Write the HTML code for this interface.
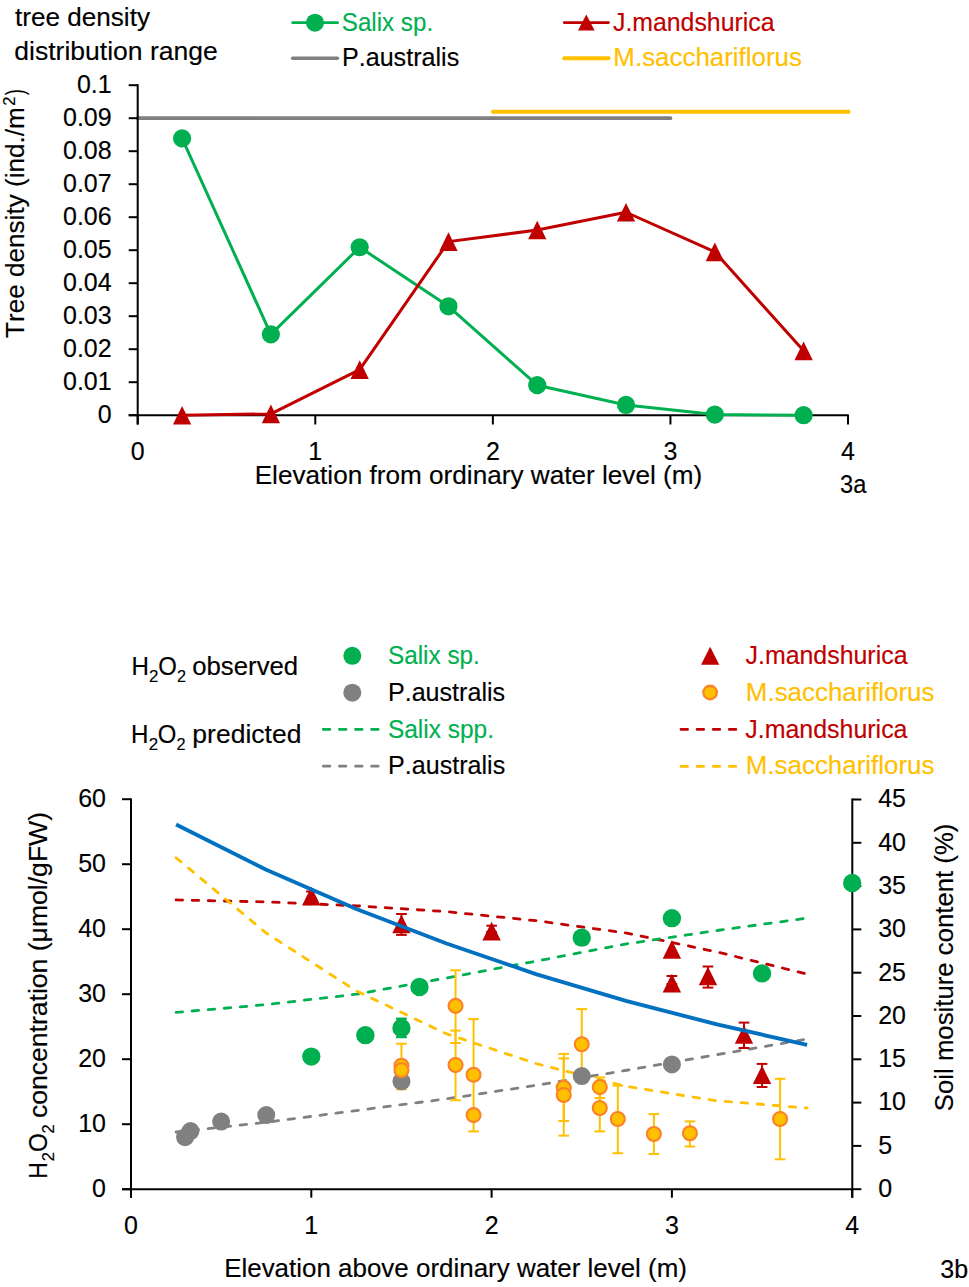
<!DOCTYPE html>
<html><head><meta charset="utf-8"><style>
html,body{margin:0;padding:0;background:#fff;}
body{width:969px;height:1287px;overflow:hidden;}
svg{display:block;}
text{font-family:"Liberation Sans",sans-serif;font-kerning:none;font-variant-ligatures:none;}
</style></head><body>
<svg width="969" height="1287" viewBox="0 0 969 1287">
<rect width="969" height="1287" fill="#fff"/>
<text x="15.00" y="26.00" font-size="25.0" fill="#000" stroke="#000" stroke-width="0.15" textLength="134.95" lengthAdjust="spacingAndGlyphs">tree density</text>
<text x="14.29" y="60.30" font-size="25.0" fill="#000" stroke="#000" stroke-width="0.15" textLength="203.59" lengthAdjust="spacingAndGlyphs">distribution range</text>
<line x1="292.60" y1="22.70" x2="337.60" y2="22.70" stroke="#00B050" stroke-width="2.7" stroke-linecap="round"/>
<circle cx="315.00" cy="22.65" r="9.0" fill="#00B050"/>
<text x="341.80" y="31.10" font-size="25.0" fill="#00B050" stroke="#00B050" stroke-width="0.15" textLength="91.30" lengthAdjust="spacingAndGlyphs">Salix sp.</text>
<line x1="292.60" y1="58.25" x2="337.50" y2="58.25" stroke="#808080" stroke-width="3.4" stroke-linecap="round"/>
<text x="341.94" y="66.00" font-size="25.0" fill="#000" stroke="#000" stroke-width="0.15" textLength="117.27" lengthAdjust="spacingAndGlyphs">P.australis</text>
<line x1="564.20" y1="22.56" x2="608.50" y2="22.56" stroke="#C00000" stroke-width="2.7" stroke-linecap="round"/>
<path d="M586.30,14.40L594.60,30.60L578.00,30.60Z" fill="#C00000"/>
<text x="613.01" y="31.30" font-size="25.0" fill="#C00000" stroke="#C00000" stroke-width="0.15" textLength="161.49" lengthAdjust="spacingAndGlyphs">J.mandshurica</text>
<line x1="564.20" y1="58.30" x2="608.60" y2="58.30" stroke="#FFC000" stroke-width="4" stroke-linecap="round"/>
<text x="613.38" y="65.80" font-size="25.0" fill="#FFC000" stroke="#FFC000" stroke-width="0.15" textLength="188.56" lengthAdjust="spacingAndGlyphs">M.sacchariflorus</text>
<line x1="137.70" y1="118.20" x2="670.50" y2="118.20" stroke="#808080" stroke-width="3.7" stroke-linecap="round"/>
<line x1="493.00" y1="111.80" x2="850.20" y2="111.80" stroke="#FFC000" stroke-width="4"/>
<circle cx="493.00" cy="111.80" r="2" fill="#FFC000"/>
<line x1="137.70" y1="84.20" x2="137.70" y2="424.50" stroke="#000" stroke-width="2"/>
<line x1="128.70" y1="415.20" x2="848.80" y2="415.20" stroke="#000" stroke-width="2"/>
<line x1="128.70" y1="415.20" x2="137.70" y2="415.20" stroke="#000" stroke-width="2"/>
<text x="111.70" y="422.90" font-size="25.0" fill="#000" stroke="#000" stroke-width="0.15" text-anchor="end">0</text>
<line x1="128.70" y1="382.20" x2="137.70" y2="382.20" stroke="#000" stroke-width="2"/>
<text x="111.70" y="389.90" font-size="25.0" fill="#000" stroke="#000" stroke-width="0.15" text-anchor="end">0.01</text>
<line x1="128.70" y1="349.20" x2="137.70" y2="349.20" stroke="#000" stroke-width="2"/>
<text x="111.70" y="356.90" font-size="25.0" fill="#000" stroke="#000" stroke-width="0.15" text-anchor="end">0.02</text>
<line x1="128.70" y1="316.20" x2="137.70" y2="316.20" stroke="#000" stroke-width="2"/>
<text x="111.70" y="323.90" font-size="25.0" fill="#000" stroke="#000" stroke-width="0.15" text-anchor="end">0.03</text>
<line x1="128.70" y1="283.20" x2="137.70" y2="283.20" stroke="#000" stroke-width="2"/>
<text x="111.70" y="290.90" font-size="25.0" fill="#000" stroke="#000" stroke-width="0.15" text-anchor="end">0.04</text>
<line x1="128.70" y1="250.20" x2="137.70" y2="250.20" stroke="#000" stroke-width="2"/>
<text x="111.70" y="257.90" font-size="25.0" fill="#000" stroke="#000" stroke-width="0.15" text-anchor="end">0.05</text>
<line x1="128.70" y1="217.20" x2="137.70" y2="217.20" stroke="#000" stroke-width="2"/>
<text x="111.70" y="224.90" font-size="25.0" fill="#000" stroke="#000" stroke-width="0.15" text-anchor="end">0.06</text>
<line x1="128.70" y1="184.20" x2="137.70" y2="184.20" stroke="#000" stroke-width="2"/>
<text x="111.70" y="191.90" font-size="25.0" fill="#000" stroke="#000" stroke-width="0.15" text-anchor="end">0.07</text>
<line x1="128.70" y1="151.20" x2="137.70" y2="151.20" stroke="#000" stroke-width="2"/>
<text x="111.70" y="158.90" font-size="25.0" fill="#000" stroke="#000" stroke-width="0.15" text-anchor="end">0.08</text>
<line x1="128.70" y1="118.20" x2="137.70" y2="118.20" stroke="#000" stroke-width="2"/>
<text x="111.70" y="125.90" font-size="25.0" fill="#000" stroke="#000" stroke-width="0.15" text-anchor="end">0.09</text>
<line x1="128.70" y1="85.20" x2="137.70" y2="85.20" stroke="#000" stroke-width="2"/>
<text x="111.70" y="92.90" font-size="25.0" fill="#000" stroke="#000" stroke-width="0.15" text-anchor="end">0.1</text>
<line x1="137.70" y1="415.20" x2="137.70" y2="424.50" stroke="#000" stroke-width="2"/>
<text x="137.70" y="459.70" font-size="25.0" fill="#000" stroke="#000" stroke-width="0.15" text-anchor="middle">0</text>
<line x1="315.28" y1="415.20" x2="315.28" y2="424.50" stroke="#000" stroke-width="2"/>
<text x="315.28" y="459.70" font-size="25.0" fill="#000" stroke="#000" stroke-width="0.15" text-anchor="middle">1</text>
<line x1="492.86" y1="415.20" x2="492.86" y2="424.50" stroke="#000" stroke-width="2"/>
<text x="492.86" y="459.70" font-size="25.0" fill="#000" stroke="#000" stroke-width="0.15" text-anchor="middle">2</text>
<line x1="670.44" y1="415.20" x2="670.44" y2="424.50" stroke="#000" stroke-width="2"/>
<text x="670.44" y="459.70" font-size="25.0" fill="#000" stroke="#000" stroke-width="0.15" text-anchor="middle">3</text>
<line x1="848.02" y1="415.20" x2="848.02" y2="424.50" stroke="#000" stroke-width="2"/>
<text x="848.02" y="459.70" font-size="25.0" fill="#000" stroke="#000" stroke-width="0.15" text-anchor="middle">4</text>
<text x="254.66" y="483.70" font-size="25.0" fill="#000" stroke="#000" stroke-width="0.15" textLength="447.57" lengthAdjust="spacingAndGlyphs">Elevation from ordinary water level (m)</text>
<text x="840.00" y="492.60" font-size="25.0" fill="#000" stroke="#000" stroke-width="0.15" textLength="26.30" lengthAdjust="spacingAndGlyphs">3a</text>
<text transform="translate(23.60,337.40) rotate(-90)" x="-0.59" y="0" font-size="25.0" fill="#000" stroke="#000" stroke-width="0.15" textLength="230.81" lengthAdjust="spacingAndGlyphs">Tree density (ind./m</text>
<text transform="translate(14.9,105.8) rotate(-90)" x="0" y="0" font-size="16.5" stroke="#000" stroke-width="0.12">2</text>
<text transform="translate(23.60,94.90) rotate(-90)" x="-0.10" y="0" font-size="25.0" fill="#000" stroke="#000" stroke-width="0.15" textLength="5.78" lengthAdjust="spacingAndGlyphs">)</text>
<polyline points="182.09,138.33 270.88,334.35 359.68,247.23 448.47,306.30 537.25,385.17 626.05,404.97 714.84,414.54 803.62,415.20" fill="none" stroke="#00B050" stroke-width="3" stroke-linejoin="round"/>
<polyline points="182.09,415.20 270.88,413.88 359.68,369.66 448.47,241.62 537.25,230.07 626.05,212.25 714.84,251.85 803.62,350.85" fill="none" stroke="#C00000" stroke-width="3" stroke-linejoin="round"/>
<circle cx="182.09" cy="138.33" r="9.1" fill="#00B050"/>
<circle cx="270.88" cy="334.35" r="9.1" fill="#00B050"/>
<circle cx="359.68" cy="247.23" r="9.1" fill="#00B050"/>
<circle cx="448.47" cy="306.30" r="9.1" fill="#00B050"/>
<circle cx="537.25" cy="385.17" r="9.1" fill="#00B050"/>
<circle cx="626.05" cy="404.97" r="9.1" fill="#00B050"/>
<circle cx="714.84" cy="414.54" r="9.1" fill="#00B050"/>
<circle cx="803.62" cy="415.20" r="9.1" fill="#00B050"/>
<path d="M182.09,405.90L191.25,424.50L172.94,424.50Z" fill="#C00000"/>
<path d="M270.88,404.58L280.03,423.18L261.74,423.18Z" fill="#C00000"/>
<path d="M359.68,360.36L368.82,378.96L350.53,378.96Z" fill="#C00000"/>
<path d="M448.47,232.32L457.62,250.92L439.32,250.92Z" fill="#C00000"/>
<path d="M537.25,220.77L546.40,239.37L528.11,239.37Z" fill="#C00000"/>
<path d="M626.05,202.95L635.20,221.55L616.90,221.55Z" fill="#C00000"/>
<path d="M714.84,242.55L723.99,261.15L705.69,261.15Z" fill="#C00000"/>
<path d="M803.62,341.55L812.77,360.15L794.48,360.15Z" fill="#C00000"/>
<text x="131.42" y="674.60" font-size="25.0" fill="#000" stroke="#000" stroke-width="0.15" textLength="17.45" lengthAdjust="spacingAndGlyphs">H</text>
<text x="149.05" y="681.50" font-size="16.5" fill="#000" stroke="#000" stroke-width="0.15" textLength="9.40" lengthAdjust="spacingAndGlyphs">2</text>
<text x="158.27" y="674.60" font-size="25.0" fill="#000" stroke="#000" stroke-width="0.15" textLength="18.57" lengthAdjust="spacingAndGlyphs">O</text>
<text x="176.88" y="681.50" font-size="16.5" fill="#000" stroke="#000" stroke-width="0.15" textLength="9.03" lengthAdjust="spacingAndGlyphs">2</text>
<text x="192.22" y="674.60" font-size="25.0" fill="#000" stroke="#000" stroke-width="0.15" textLength="105.94" lengthAdjust="spacingAndGlyphs">observed</text>
<text x="131.02" y="742.70" font-size="25.0" fill="#000" stroke="#000" stroke-width="0.15" textLength="17.45" lengthAdjust="spacingAndGlyphs">H</text>
<text x="148.65" y="749.60" font-size="16.5" fill="#000" stroke="#000" stroke-width="0.15" textLength="9.40" lengthAdjust="spacingAndGlyphs">2</text>
<text x="157.87" y="742.70" font-size="25.0" fill="#000" stroke="#000" stroke-width="0.15" textLength="18.57" lengthAdjust="spacingAndGlyphs">O</text>
<text x="176.48" y="749.60" font-size="16.5" fill="#000" stroke="#000" stroke-width="0.15" textLength="9.03" lengthAdjust="spacingAndGlyphs">2</text>
<text x="192.39" y="742.70" font-size="25.0" fill="#000" stroke="#000" stroke-width="0.15" textLength="109.02" lengthAdjust="spacingAndGlyphs">predicted</text>
<circle cx="352.30" cy="655.80" r="9" fill="#00B050"/>
<circle cx="352.30" cy="692.70" r="9" fill="#808080"/>
<text x="388.00" y="664.10" font-size="25.0" fill="#00B050" stroke="#00B050" stroke-width="0.15" textLength="91.82" lengthAdjust="spacingAndGlyphs">Salix sp.</text>
<text x="387.94" y="701.00" font-size="25.0" fill="#000" stroke="#000" stroke-width="0.15" textLength="117.17" lengthAdjust="spacingAndGlyphs">P.australis</text>
<line x1="323.35" y1="729.40" x2="380.20" y2="729.40" stroke="#00B050" stroke-width="2.8" stroke-dasharray="6.5 9.6" stroke-linecap="round"/>
<line x1="323.35" y1="766.20" x2="380.20" y2="766.20" stroke="#808080" stroke-width="2.8" stroke-dasharray="6.5 9.6" stroke-linecap="round"/>
<text x="387.89" y="737.90" font-size="25.0" fill="#00B050" stroke="#00B050" stroke-width="0.15" textLength="106.15" lengthAdjust="spacingAndGlyphs">Salix spp.</text>
<text x="388.14" y="773.70" font-size="25.0" fill="#000" stroke="#000" stroke-width="0.15" textLength="117.06" lengthAdjust="spacingAndGlyphs">P.australis</text>
<path d="M710.15,646.80L719.25,664.80L701.05,664.80Z" fill="#C00000"/>
<circle cx="710.10" cy="692.50" r="6.75" fill="#FFC000" stroke="#FA8228" stroke-width="2.3"/>
<text x="745.51" y="663.80" font-size="25.0" fill="#C00000" stroke="#C00000" stroke-width="0.15" textLength="161.99" lengthAdjust="spacingAndGlyphs">J.mandshurica</text>
<text x="745.88" y="701.10" font-size="25.0" fill="#FFC000" stroke="#FFC000" stroke-width="0.15" textLength="188.56" lengthAdjust="spacingAndGlyphs">M.sacchariflorus</text>
<line x1="681.05" y1="729.40" x2="738.00" y2="729.40" stroke="#C00000" stroke-width="2.8" stroke-dasharray="6.5 9.6" stroke-linecap="round"/>
<line x1="681.05" y1="766.40" x2="738.00" y2="766.40" stroke="#FFC000" stroke-width="2.8" stroke-dasharray="6.5 9.6" stroke-linecap="round"/>
<text x="745.31" y="737.80" font-size="25.0" fill="#C00000" stroke="#C00000" stroke-width="0.15" textLength="162.19" lengthAdjust="spacingAndGlyphs">J.mandshurica</text>
<text x="745.77" y="773.90" font-size="25.0" fill="#FFC000" stroke="#FFC000" stroke-width="0.15" textLength="188.66" lengthAdjust="spacingAndGlyphs">M.sacchariflorus</text>
<line x1="131.00" y1="798.40" x2="131.00" y2="1197.70" stroke="#000" stroke-width="2"/>
<line x1="852.30" y1="798.50" x2="852.30" y2="1197.70" stroke="#000" stroke-width="2"/>
<line x1="122.00" y1="1189.20" x2="852.30" y2="1189.20" stroke="#000" stroke-width="2"/>
<line x1="122.00" y1="1189.20" x2="131.00" y2="1189.20" stroke="#000" stroke-width="2"/>
<text x="106.00" y="1197.00" font-size="25.0" fill="#000" stroke="#000" stroke-width="0.15" text-anchor="end">0</text>
<line x1="122.00" y1="1124.20" x2="131.00" y2="1124.20" stroke="#000" stroke-width="2"/>
<text x="106.00" y="1132.00" font-size="25.0" fill="#000" stroke="#000" stroke-width="0.15" text-anchor="end">10</text>
<line x1="122.00" y1="1059.20" x2="131.00" y2="1059.20" stroke="#000" stroke-width="2"/>
<text x="106.00" y="1067.00" font-size="25.0" fill="#000" stroke="#000" stroke-width="0.15" text-anchor="end">20</text>
<line x1="122.00" y1="994.20" x2="131.00" y2="994.20" stroke="#000" stroke-width="2"/>
<text x="106.00" y="1002.00" font-size="25.0" fill="#000" stroke="#000" stroke-width="0.15" text-anchor="end">30</text>
<line x1="122.00" y1="929.20" x2="131.00" y2="929.20" stroke="#000" stroke-width="2"/>
<text x="106.00" y="937.00" font-size="25.0" fill="#000" stroke="#000" stroke-width="0.15" text-anchor="end">40</text>
<line x1="122.00" y1="864.20" x2="131.00" y2="864.20" stroke="#000" stroke-width="2"/>
<text x="106.00" y="872.00" font-size="25.0" fill="#000" stroke="#000" stroke-width="0.15" text-anchor="end">50</text>
<line x1="122.00" y1="799.20" x2="131.00" y2="799.20" stroke="#000" stroke-width="2"/>
<text x="106.00" y="807.00" font-size="25.0" fill="#000" stroke="#000" stroke-width="0.15" text-anchor="end">60</text>
<line x1="852.30" y1="1189.20" x2="861.30" y2="1189.20" stroke="#000" stroke-width="2"/>
<text x="878.20" y="1197.00" font-size="25.0" fill="#000" stroke="#000" stroke-width="0.15" text-anchor="start">0</text>
<line x1="852.30" y1="1145.90" x2="861.30" y2="1145.90" stroke="#000" stroke-width="2"/>
<text x="878.20" y="1153.70" font-size="25.0" fill="#000" stroke="#000" stroke-width="0.15" text-anchor="start">5</text>
<line x1="852.30" y1="1102.60" x2="861.30" y2="1102.60" stroke="#000" stroke-width="2"/>
<text x="878.20" y="1110.40" font-size="25.0" fill="#000" stroke="#000" stroke-width="0.15" text-anchor="start">10</text>
<line x1="852.30" y1="1059.30" x2="861.30" y2="1059.30" stroke="#000" stroke-width="2"/>
<text x="878.20" y="1067.10" font-size="25.0" fill="#000" stroke="#000" stroke-width="0.15" text-anchor="start">15</text>
<line x1="852.30" y1="1016.00" x2="861.30" y2="1016.00" stroke="#000" stroke-width="2"/>
<text x="878.20" y="1023.80" font-size="25.0" fill="#000" stroke="#000" stroke-width="0.15" text-anchor="start">20</text>
<line x1="852.30" y1="972.70" x2="861.30" y2="972.70" stroke="#000" stroke-width="2"/>
<text x="878.20" y="980.50" font-size="25.0" fill="#000" stroke="#000" stroke-width="0.15" text-anchor="start">25</text>
<line x1="852.30" y1="929.40" x2="861.30" y2="929.40" stroke="#000" stroke-width="2"/>
<text x="878.20" y="937.20" font-size="25.0" fill="#000" stroke="#000" stroke-width="0.15" text-anchor="start">30</text>
<line x1="852.30" y1="886.10" x2="861.30" y2="886.10" stroke="#000" stroke-width="2"/>
<text x="878.20" y="893.90" font-size="25.0" fill="#000" stroke="#000" stroke-width="0.15" text-anchor="start">35</text>
<line x1="852.30" y1="842.80" x2="861.30" y2="842.80" stroke="#000" stroke-width="2"/>
<text x="878.20" y="850.60" font-size="25.0" fill="#000" stroke="#000" stroke-width="0.15" text-anchor="start">40</text>
<line x1="852.30" y1="799.50" x2="861.30" y2="799.50" stroke="#000" stroke-width="2"/>
<text x="878.20" y="807.30" font-size="25.0" fill="#000" stroke="#000" stroke-width="0.15" text-anchor="start">45</text>
<line x1="131.00" y1="1189.20" x2="131.00" y2="1197.70" stroke="#000" stroke-width="2"/>
<text x="131.00" y="1234.00" font-size="25.0" fill="#000" stroke="#000" stroke-width="0.15" text-anchor="middle">0</text>
<line x1="311.30" y1="1189.20" x2="311.30" y2="1197.70" stroke="#000" stroke-width="2"/>
<text x="311.30" y="1234.00" font-size="25.0" fill="#000" stroke="#000" stroke-width="0.15" text-anchor="middle">1</text>
<line x1="491.60" y1="1189.20" x2="491.60" y2="1197.70" stroke="#000" stroke-width="2"/>
<text x="491.60" y="1234.00" font-size="25.0" fill="#000" stroke="#000" stroke-width="0.15" text-anchor="middle">2</text>
<line x1="671.90" y1="1189.20" x2="671.90" y2="1197.70" stroke="#000" stroke-width="2"/>
<text x="671.90" y="1234.00" font-size="25.0" fill="#000" stroke="#000" stroke-width="0.15" text-anchor="middle">3</text>
<line x1="852.20" y1="1189.20" x2="852.20" y2="1197.70" stroke="#000" stroke-width="2"/>
<text x="852.20" y="1234.00" font-size="25.0" fill="#000" stroke="#000" stroke-width="0.15" text-anchor="middle">4</text>
<text x="224.17" y="1276.60" font-size="25.0" fill="#000" stroke="#000" stroke-width="0.15" textLength="462.84" lengthAdjust="spacingAndGlyphs">Elevation above ordinary water level (m)</text>
<text x="940.25" y="1277.60" font-size="25.0" fill="#000" stroke="#000" stroke-width="0.15" textLength="27.80" lengthAdjust="spacingAndGlyphs">3b</text>
<text transform="translate(47.00,1176.80) rotate(-90)" x="-1.89" y="0" font-size="25.0" fill="#000" stroke="#000" stroke-width="0.15" textLength="16.68" lengthAdjust="spacingAndGlyphs">H</text>
<text transform="translate(54.0,1161.3) rotate(-90)" x="0" y="0" font-size="16.5" stroke="#000" stroke-width="0.12">2</text>
<text transform="translate(47.00,1150.90) rotate(-90)" x="-1.15" y="0" font-size="25.0" fill="#000" stroke="#000" stroke-width="0.15" textLength="18.92" lengthAdjust="spacingAndGlyphs">O</text>
<text transform="translate(54.0,1133.4) rotate(-90)" x="0" y="0" font-size="16.5" stroke="#000" stroke-width="0.12">2</text>
<text transform="translate(47.00,1117.00) rotate(-90)" x="-1.13" y="0" font-size="25.0" fill="#000" stroke="#000" stroke-width="0.15" textLength="306.18" lengthAdjust="spacingAndGlyphs">concentration (μmol/gFW)</text>
<text transform="translate(953.30,1110.00) rotate(-90)" x="-1.17" y="0" font-size="25.0" fill="#000" stroke="#000" stroke-width="0.15" textLength="287.57" lengthAdjust="spacingAndGlyphs">Soil mositure content (%)</text>
<polyline points="176.07,899.95 266.23,901.90 356.38,905.80 446.53,911.65 536.67,920.75 626.83,933.10 716.98,951.95 807.12,974.05" fill="none" stroke="#C00000" stroke-width="2.8" stroke-linejoin="round" stroke-dasharray="6.5 9.6" stroke-linecap="round"/>
<polyline points="176.07,1012.40 266.23,1004.60 356.38,994.20 446.53,977.95 536.67,961.05 626.83,943.83 716.98,930.50 807.12,918.15" fill="none" stroke="#00B050" stroke-width="2.8" stroke-linejoin="round" stroke-dasharray="6.5 9.6" stroke-linecap="round"/>
<polyline points="176.07,1132.00 266.23,1122.25 356.38,1110.55 446.53,1098.85 536.67,1085.20 626.83,1070.25 716.98,1054.65 807.12,1039.05" fill="none" stroke="#808080" stroke-width="2.8" stroke-linejoin="round" stroke-dasharray="6.5 9.6" stroke-linecap="round"/>
<polyline points="176.07,857.70 266.23,933.10 356.38,990.95 446.53,1033.85 536.67,1063.75 626.83,1086.50 716.98,1100.80 807.12,1107.95" fill="none" stroke="#FFC000" stroke-width="2.8" stroke-linejoin="round" stroke-dasharray="6.5 9.6" stroke-linecap="round"/>
<line x1="401.45" y1="1043.70" x2="401.45" y2="1089.30" stroke="#FFC000" stroke-width="2"/>
<line x1="396.10" y1="1043.70" x2="406.80" y2="1043.70" stroke="#FFC000" stroke-width="2"/>
<line x1="396.10" y1="1089.30" x2="406.80" y2="1089.30" stroke="#FFC000" stroke-width="2"/>
<line x1="455.54" y1="970.30" x2="455.54" y2="1043.00" stroke="#FFC000" stroke-width="2"/>
<line x1="450.19" y1="970.30" x2="460.89" y2="970.30" stroke="#FFC000" stroke-width="2"/>
<line x1="450.19" y1="1043.00" x2="460.89" y2="1043.00" stroke="#FFC000" stroke-width="2"/>
<line x1="455.54" y1="1030.60" x2="455.54" y2="1100.30" stroke="#FFC000" stroke-width="2"/>
<line x1="450.19" y1="1030.60" x2="460.89" y2="1030.60" stroke="#FFC000" stroke-width="2"/>
<line x1="450.19" y1="1100.30" x2="460.89" y2="1100.30" stroke="#FFC000" stroke-width="2"/>
<line x1="473.57" y1="1019.10" x2="473.57" y2="1131.40" stroke="#FFC000" stroke-width="2"/>
<line x1="468.22" y1="1019.10" x2="478.92" y2="1019.10" stroke="#FFC000" stroke-width="2"/>
<line x1="468.22" y1="1131.40" x2="478.92" y2="1131.40" stroke="#FFC000" stroke-width="2"/>
<line x1="563.72" y1="1053.90" x2="563.72" y2="1121.00" stroke="#FFC000" stroke-width="2"/>
<line x1="558.37" y1="1053.90" x2="569.07" y2="1053.90" stroke="#FFC000" stroke-width="2"/>
<line x1="558.37" y1="1121.00" x2="569.07" y2="1121.00" stroke="#FFC000" stroke-width="2"/>
<line x1="563.72" y1="1058.40" x2="563.72" y2="1135.60" stroke="#FFC000" stroke-width="2"/>
<line x1="558.37" y1="1058.40" x2="569.07" y2="1058.40" stroke="#FFC000" stroke-width="2"/>
<line x1="558.37" y1="1135.60" x2="569.07" y2="1135.60" stroke="#FFC000" stroke-width="2"/>
<line x1="581.75" y1="1009.10" x2="581.75" y2="1079.00" stroke="#FFC000" stroke-width="2"/>
<line x1="576.40" y1="1009.10" x2="587.10" y2="1009.10" stroke="#FFC000" stroke-width="2"/>
<line x1="576.40" y1="1079.00" x2="587.10" y2="1079.00" stroke="#FFC000" stroke-width="2"/>
<line x1="599.78" y1="1077.40" x2="599.78" y2="1098.00" stroke="#FFC000" stroke-width="2"/>
<line x1="594.43" y1="1077.40" x2="605.13" y2="1077.40" stroke="#FFC000" stroke-width="2"/>
<line x1="594.43" y1="1098.00" x2="605.13" y2="1098.00" stroke="#FFC000" stroke-width="2"/>
<line x1="599.78" y1="1084.00" x2="599.78" y2="1131.40" stroke="#FFC000" stroke-width="2"/>
<line x1="594.43" y1="1084.00" x2="605.13" y2="1084.00" stroke="#FFC000" stroke-width="2"/>
<line x1="594.43" y1="1131.40" x2="605.13" y2="1131.40" stroke="#FFC000" stroke-width="2"/>
<line x1="617.81" y1="1085.60" x2="617.81" y2="1153.20" stroke="#FFC000" stroke-width="2"/>
<line x1="612.46" y1="1085.60" x2="623.16" y2="1085.60" stroke="#FFC000" stroke-width="2"/>
<line x1="612.46" y1="1153.20" x2="623.16" y2="1153.20" stroke="#FFC000" stroke-width="2"/>
<line x1="653.87" y1="1114.10" x2="653.87" y2="1154.00" stroke="#FFC000" stroke-width="2"/>
<line x1="648.52" y1="1114.10" x2="659.22" y2="1114.10" stroke="#FFC000" stroke-width="2"/>
<line x1="648.52" y1="1154.00" x2="659.22" y2="1154.00" stroke="#FFC000" stroke-width="2"/>
<line x1="689.93" y1="1121.40" x2="689.93" y2="1146.50" stroke="#FFC000" stroke-width="2"/>
<line x1="684.58" y1="1121.40" x2="695.28" y2="1121.40" stroke="#FFC000" stroke-width="2"/>
<line x1="684.58" y1="1146.50" x2="695.28" y2="1146.50" stroke="#FFC000" stroke-width="2"/>
<line x1="780.08" y1="1078.80" x2="780.08" y2="1159.30" stroke="#FFC000" stroke-width="2"/>
<line x1="774.73" y1="1078.80" x2="785.43" y2="1078.80" stroke="#FFC000" stroke-width="2"/>
<line x1="774.73" y1="1159.30" x2="785.43" y2="1159.30" stroke="#FFC000" stroke-width="2"/>
<circle cx="185.09" cy="1137.20" r="9.0" fill="#808080"/>
<circle cx="190.50" cy="1131.03" r="9.0" fill="#808080"/>
<circle cx="221.15" cy="1121.60" r="9.0" fill="#808080"/>
<circle cx="266.23" cy="1115.10" r="9.0" fill="#808080"/>
<circle cx="401.45" cy="1081.30" r="9.0" fill="#808080"/>
<circle cx="581.75" cy="1076.10" r="9.0" fill="#808080"/>
<circle cx="671.90" cy="1064.40" r="9.0" fill="#808080"/>
<circle cx="401.45" cy="1065.70" r="7.0" fill="#FFC000" stroke="#FA8228" stroke-width="2.1"/>
<circle cx="401.45" cy="1070.25" r="7.0" fill="#FFC000" stroke="#FA8228" stroke-width="2.1"/>
<circle cx="455.54" cy="1005.90" r="7.0" fill="#FFC000" stroke="#FA8228" stroke-width="2.1"/>
<circle cx="455.54" cy="1065.05" r="7.0" fill="#FFC000" stroke="#FA8228" stroke-width="2.1"/>
<circle cx="473.57" cy="1074.80" r="7.0" fill="#FFC000" stroke="#FA8228" stroke-width="2.1"/>
<circle cx="473.57" cy="1115.10" r="7.0" fill="#FFC000" stroke="#FA8228" stroke-width="2.1"/>
<circle cx="563.72" cy="1087.80" r="7.0" fill="#FFC000" stroke="#FA8228" stroke-width="2.1"/>
<circle cx="563.72" cy="1094.95" r="7.0" fill="#FFC000" stroke="#FA8228" stroke-width="2.1"/>
<circle cx="581.75" cy="1044.25" r="7.0" fill="#FFC000" stroke="#FA8228" stroke-width="2.1"/>
<circle cx="599.78" cy="1087.15" r="7.0" fill="#FFC000" stroke="#FA8228" stroke-width="2.1"/>
<circle cx="599.78" cy="1107.95" r="7.0" fill="#FFC000" stroke="#FA8228" stroke-width="2.1"/>
<circle cx="617.81" cy="1119.00" r="7.0" fill="#FFC000" stroke="#FA8228" stroke-width="2.1"/>
<circle cx="653.87" cy="1133.95" r="7.0" fill="#FFC000" stroke="#FA8228" stroke-width="2.1"/>
<circle cx="689.93" cy="1133.30" r="7.0" fill="#FFC000" stroke="#FA8228" stroke-width="2.1"/>
<circle cx="780.08" cy="1119.00" r="7.0" fill="#FFC000" stroke="#FA8228" stroke-width="2.1"/>
<line x1="401.45" y1="1018.80" x2="401.45" y2="1037.00" stroke="#00B050" stroke-width="2.5"/>
<line x1="396.10" y1="1018.80" x2="406.80" y2="1018.80" stroke="#00B050" stroke-width="2.5"/>
<line x1="396.10" y1="1037.00" x2="406.80" y2="1037.00" stroke="#00B050" stroke-width="2.5"/>
<circle cx="311.30" cy="1056.60" r="9.2" fill="#00B050"/>
<circle cx="365.39" cy="1035.15" r="9.2" fill="#00B050"/>
<circle cx="401.45" cy="1028.00" r="9.2" fill="#00B050"/>
<circle cx="419.48" cy="987.05" r="9.2" fill="#00B050"/>
<circle cx="581.75" cy="937.65" r="9.2" fill="#00B050"/>
<circle cx="671.90" cy="918.15" r="9.2" fill="#00B050"/>
<circle cx="762.05" cy="973.40" r="9.2" fill="#00B050"/>
<circle cx="852.20" cy="883.05" r="9.2" fill="#00B050"/>
<line x1="311.30" y1="891.50" x2="311.30" y2="898.00" stroke="#C00000" stroke-width="2"/>
<line x1="305.95" y1="891.50" x2="316.65" y2="891.50" stroke="#C00000" stroke-width="2"/>
<line x1="305.95" y1="898.00" x2="316.65" y2="898.00" stroke="#C00000" stroke-width="2"/>
<line x1="401.45" y1="914.00" x2="401.45" y2="934.90" stroke="#C00000" stroke-width="2"/>
<line x1="396.10" y1="914.00" x2="406.80" y2="914.00" stroke="#C00000" stroke-width="2"/>
<line x1="396.10" y1="934.90" x2="406.80" y2="934.90" stroke="#C00000" stroke-width="2"/>
<line x1="491.60" y1="925.70" x2="491.60" y2="932.00" stroke="#C00000" stroke-width="2"/>
<line x1="486.25" y1="925.70" x2="496.95" y2="925.70" stroke="#C00000" stroke-width="2"/>
<line x1="486.25" y1="932.00" x2="496.95" y2="932.00" stroke="#C00000" stroke-width="2"/>
<line x1="671.90" y1="976.00" x2="671.90" y2="984.00" stroke="#C00000" stroke-width="2"/>
<line x1="666.55" y1="976.00" x2="677.25" y2="976.00" stroke="#C00000" stroke-width="2"/>
<line x1="666.55" y1="984.00" x2="677.25" y2="984.00" stroke="#C00000" stroke-width="2"/>
<line x1="707.96" y1="966.50" x2="707.96" y2="987.60" stroke="#C00000" stroke-width="2"/>
<line x1="702.61" y1="966.50" x2="713.31" y2="966.50" stroke="#C00000" stroke-width="2"/>
<line x1="702.61" y1="987.60" x2="713.31" y2="987.60" stroke="#C00000" stroke-width="2"/>
<line x1="744.02" y1="1022.60" x2="744.02" y2="1048.00" stroke="#C00000" stroke-width="2"/>
<line x1="738.67" y1="1022.60" x2="749.37" y2="1022.60" stroke="#C00000" stroke-width="2"/>
<line x1="738.67" y1="1048.00" x2="749.37" y2="1048.00" stroke="#C00000" stroke-width="2"/>
<line x1="762.05" y1="1063.90" x2="762.05" y2="1087.00" stroke="#C00000" stroke-width="2"/>
<line x1="756.70" y1="1063.90" x2="767.40" y2="1063.90" stroke="#C00000" stroke-width="2"/>
<line x1="756.70" y1="1087.00" x2="767.40" y2="1087.00" stroke="#C00000" stroke-width="2"/>
<path d="M311.30,886.82L320.50,905.41L302.10,905.41Z" fill="#C00000"/>
<path d="M401.45,914.70L410.65,933.30L392.25,933.30Z" fill="#C00000"/>
<path d="M491.60,921.85L500.80,940.45L482.40,940.45Z" fill="#C00000"/>
<path d="M671.90,940.05L681.10,958.65L662.70,958.65Z" fill="#C00000"/>
<path d="M671.90,973.85L681.10,992.45L662.70,992.45Z" fill="#C00000"/>
<path d="M707.96,966.70L717.16,985.30L698.76,985.30Z" fill="#C00000"/>
<path d="M744.02,1025.20L753.22,1043.80L734.82,1043.80Z" fill="#C00000"/>
<path d="M762.05,1065.50L771.25,1084.10L752.85,1084.10Z" fill="#C00000"/>
<polyline points="176.07,824.55 266.23,869.73 356.38,909.05 446.53,943.50 536.67,974.38 626.83,1001.03 716.98,1024.42 807.12,1044.90" fill="none" stroke="#0070C0" stroke-width="3.9" stroke-linejoin="round"/>
</svg>
</body></html>
